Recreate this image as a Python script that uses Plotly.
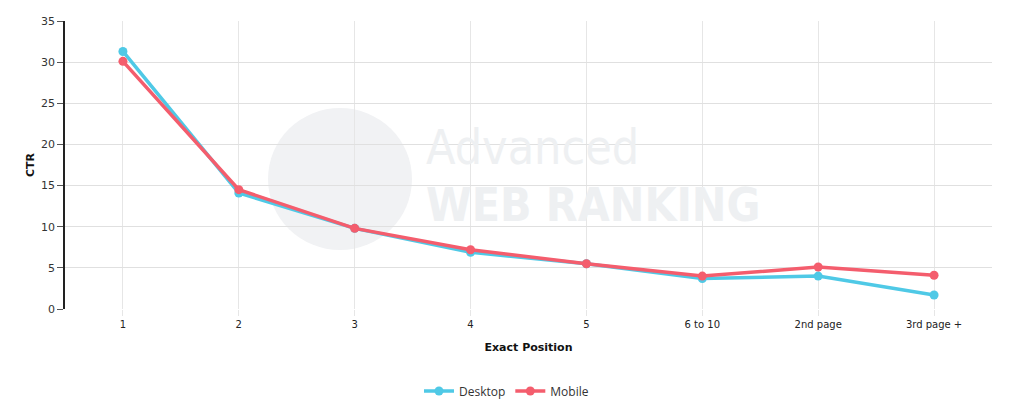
import plotly.graph_objects as go

categories = ["1", "2", "3", "4", "5", "6 to 10", "2nd page", "3rd page +"]
desktop = [31.3, 14.1, 9.8, 6.9, 5.5, 3.7, 4.0, 1.7]
mobile = [30.1, 14.5, 9.8, 7.2, 5.5, 4.0, 5.1, 4.1]
y_ticks = [0, 5, 10, 15, 20, 25, 30, 35]

DESKTOP_COLOR = "#4fc9e6"
MOBILE_COLOR = "#f45d6d"

fig = go.Figure()
fig.add_trace(go.Scatter(x=categories, y=desktop, name="Desktop", mode="lines+markers",
                         line=dict(color=DESKTOP_COLOR, width=3.5),
                         marker=dict(color=DESKTOP_COLOR, size=9)))
fig.add_trace(go.Scatter(x=categories, y=mobile, name="Mobile", mode="lines+markers",
                         line=dict(color=MOBILE_COLOR, width=3.5),
                         marker=dict(color=MOBILE_COLOR, size=9)))

def px_x(px):
    return (px - 65) / 927

def px_y(py):
    return (309 - py) / 288

# watermark
fig.add_shape(type="circle", xref="paper", yref="paper", layer="below",
              x0=px_x(268), x1=px_x(412), y0=px_y(250), y1=px_y(108),
              fillcolor="#f1f2f4", line=dict(width=0))
fig.add_annotation(text="Advanced", xref="paper", yref="paper", x=px_x(425), y=px_y(176),
                   xanchor="left", yanchor="bottom", showarrow=False, borderpad=0,
                   font=dict(family="DejaVu Sans Condensed", size=48, color="#eef0f2"))
fig.add_annotation(text="<b>WEB RANKING</b>", xref="paper", yref="paper", x=px_x(425), y=px_y(177),
                   xanchor="left", yanchor="top", showarrow=False, borderpad=0,
                   font=dict(family="DejaVu Sans Condensed", size=46, color="#eef0f2"))

fig.update_layout(
    width=1016, height=408,
    margin=dict(l=57, r=32, t=13, b=107, autoexpand=False),
    plot_bgcolor="white", paper_bgcolor="white",
    font=dict(family="DejaVu Sans", size=10, color="#333333"),
    showlegend=True,
    legend=dict(orientation="h", x=0.5 - 22 / 927, xanchor="center", y=px_y(391), yanchor="middle",
                font=dict(family="Open Sans", size=12, color="#333333")),
    xaxis=dict(type="category", range=[-0.5, 7.5], showgrid=True, gridcolor="#e6e6e6",
               ticks="outside", ticklen=6, tickcolor="#e6e6e6", showline=False, zeroline=False,
               automargin=False,
               tickfont=dict(size=10, color="#222222"),
               title=dict(text="<b>Exact Position</b>", font=dict(size=11, color="#111111"), standoff=14)),
    yaxis=dict(range=[0, 35], tickvals=y_ticks, showgrid=True, gridcolor="#e0e0e0",
               showline=True, linecolor="#222222", linewidth=1.5, zeroline=False,
               automargin=False,
               ticks="outside", ticklen=6, tickcolor="#555555",
               tickfont=dict(size=11, color="#333333"),
               title=dict(text="<b>CTR</b>", font=dict(size=11, color="#111111"), standoff=4)),
)

fig.write_html("out.html")
